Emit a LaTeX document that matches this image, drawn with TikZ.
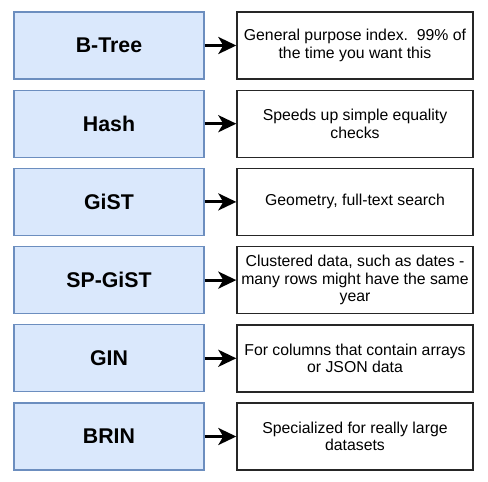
\documentclass[tikz,border=0pt]{standalone}
\usepackage{fontspec}
\setmainfont{Liberation Sans}
\usetikzlibrary{arrows.meta}
\definecolor{lblue}{HTML}{DAE8FC}
\definecolor{bblue}{HTML}{6C8EBF}
\tikzset{
  idx/.style={draw=bblue, fill=lblue, line width=1.2pt, minimum width=190pt, minimum height=67pt, inner sep=0pt, font=\bfseries\fontsize{21.3}{25}\selectfont},
  desc/.style={draw=black!85, fill=white, line width=1.4pt, minimum width=236pt, minimum height=67pt, inner sep=0pt, align=center, font=\fontsize{15.8}{17.6}\selectfont},
  conn/.style={line width=3pt, -{Stealth[length=18pt, width=17pt, inset=5pt]}},
}
\begin{document}
\begin{tikzpicture}[x=1pt,y=-1pt]
\useasboundingbox (0,0) rectangle (488,482);
\fill[white] (0,0) rectangle (488,482);
\foreach \n/\t/\d [count=\i from 0] in {
  bt/B-Tree/{General purpose index.\ \ 99\% of\\the time you want this},
  hs/Hash/{Speeds up simple equality\\checks},
  gs/GiST/{Geometry, full-text search},
  sp/SP-GiST/{Clustered data, such as dates -\\many rows might have the same\\year},
  gn/GIN/{For columns that contain arrays\\or JSON data},
  br/BRIN/{Specialized for really large\\datasets}} {
  \node[idx] (\n L) at (109, 45.5+78.2*\i) {\t};
  \node[desc] (\n R) at (355, 45.5+78.2*\i) {\d};
  \draw[conn] (\n L.east) -- (\n R.west);
}
\end{tikzpicture}
\end{document}
